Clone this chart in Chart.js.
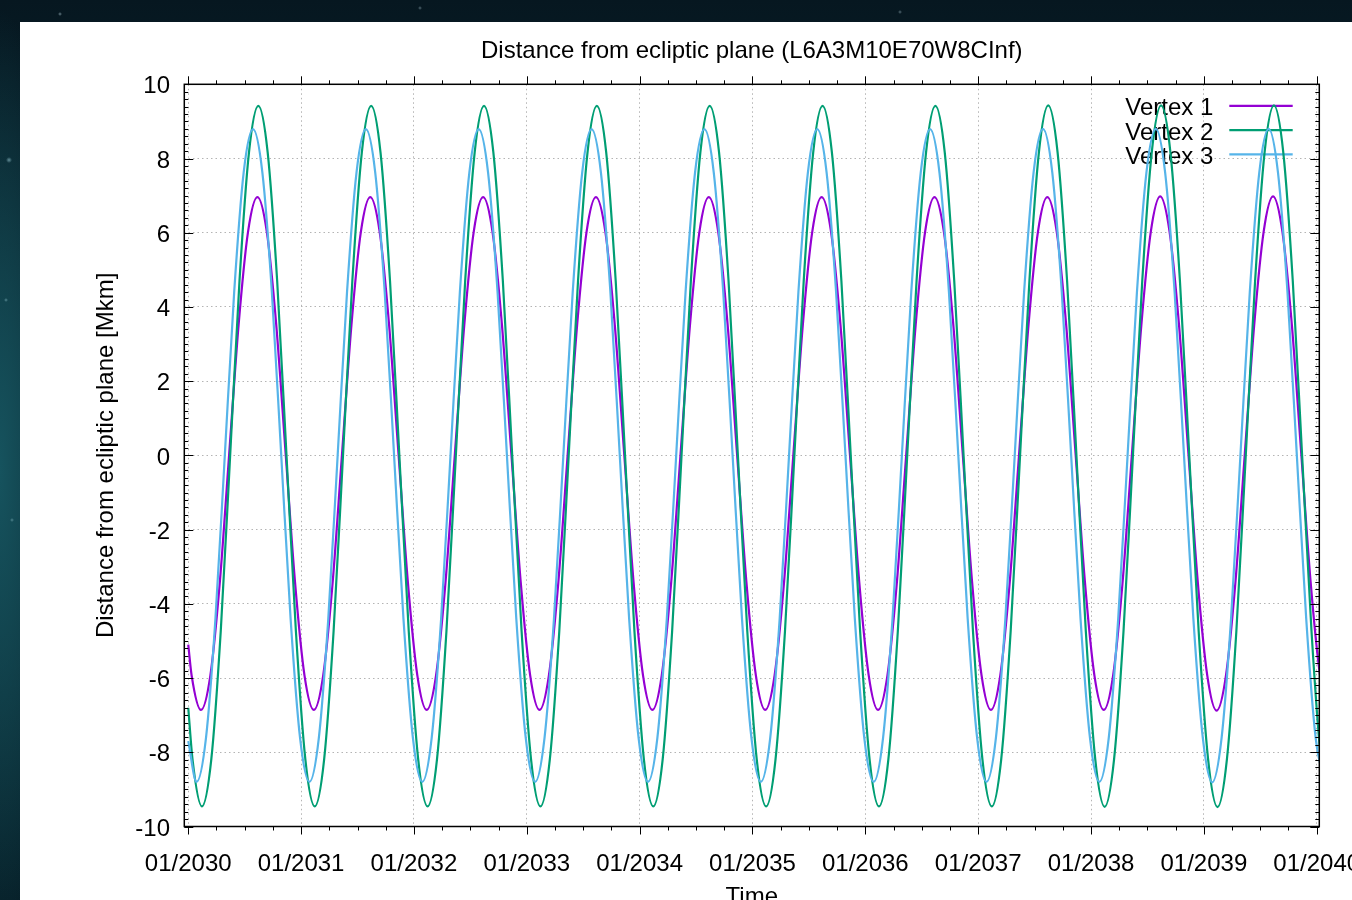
<!DOCTYPE html>
<html>
<head>
<meta charset="utf-8">
<title>Distance from ecliptic plane</title>
<script src="https://cdn.jsdelivr.net/npm/chart.js@4.4.0/dist/chart.umd.min.js"></script>
<style>
  html, body { margin: 0; padding: 0; }
  body {
    width: 1352px; height: 900px; overflow: hidden; position: relative;
    background:
      radial-gradient(circle at 9px 160px, rgba(170,220,230,0.55) 0, rgba(170,220,230,0) 3px),
      radial-gradient(circle at 6px 300px, rgba(170,220,230,0.45) 0, rgba(170,220,230,0) 2px),
      radial-gradient(circle at 12px 520px, rgba(170,220,230,0.4) 0, rgba(170,220,230,0) 2px),
      radial-gradient(circle at 60px 14px, rgba(200,230,240,0.5) 0, rgba(200,230,240,0) 2px),
      radial-gradient(circle at 420px 8px, rgba(200,230,240,0.4) 0, rgba(200,230,240,0) 2px),
      radial-gradient(circle at 900px 12px, rgba(200,230,240,0.4) 0, rgba(200,230,240,0) 2px),
      radial-gradient(ellipse 70px 460px at 0px 470px, #16535e 0%, rgba(20,80,90,0) 100%),
      linear-gradient(180deg, #061720 0%, #0c2f38 45%, #0b2d36 70%, #072029 100%);
  }
  #panel { position: absolute; left: 20px; top: 22px; width: 1400px; height: 900px; background: #fff; }
  #chart { display: block; }
</style>
</head>
<body>
<div id="panel"><canvas id="chart" width="1400" height="900"></canvas></div>
<script>
const el = (id) => document.getElementById(id);

// x axis: years after 01/2030
const yearTicks = [0, 1, 2, 3, 4, 5, 6, 7, 8, 9, 10];
const yearLabels = ['01/2030', '01/2031', '01/2032', '01/2033', '01/2034', '01/2035',
                    '01/2036', '01/2037', '01/2038', '01/2039', '01/2040'];
const distTicks = [-10, -8, -6, -4, -2, 0, 2, 4, 6, 8, 10];
const distLabels = ['-10', '-8', '-6', '-4', '-2', '0', '2', '4', '6', '8', '10'];

const seriesNames = ['Vertex 1', 'Vertex 2', 'Vertex 3'];

// Vertex 1 (Mkm)
const v1Time = [
  0,
  0.030, 0.113, 0.196, 0.280, 0.363, 0.446, 0.530, 0.613, 0.696, 0.780, 0.863, 0.946,
  1.030, 1.113, 1.196, 1.280, 1.363, 1.446, 1.530, 1.613, 1.696, 1.780, 1.863, 1.946,
  2.030, 2.113, 2.196, 2.280, 2.363, 2.446, 2.530, 2.613, 2.696, 2.780, 2.863, 2.946,
  3.030, 3.113, 3.196, 3.280, 3.363, 3.446, 3.530, 3.613, 3.696, 3.780, 3.863, 3.946,
  4.030, 4.113, 4.196, 4.280, 4.363, 4.446, 4.530, 4.613, 4.696, 4.780, 4.863, 4.946,
  5.030, 5.113, 5.196, 5.280, 5.363, 5.446, 5.530, 5.613, 5.696, 5.780, 5.863, 5.946,
  6.030, 6.113, 6.196, 6.280, 6.363, 6.446, 6.530, 6.613, 6.696, 6.780, 6.863, 6.946,
  7.030, 7.113, 7.196, 7.280, 7.363, 7.446, 7.530, 7.613, 7.696, 7.780, 7.863, 7.946,
  8.030, 8.113, 8.196, 8.280, 8.363, 8.446, 8.530, 8.613, 8.696, 8.780, 8.863, 8.946,
  9.030, 9.113, 9.196, 9.280, 9.363, 9.446, 9.530, 9.613, 9.696, 9.780, 9.863, 9.946,
  10.030, 10.113
];
const v1Dist = [
  -5.10,
  -5.93, -6.86, -5.93, -3.41, 0.05, 3.51, 6.03, 6.96, 6.03, 3.51, 0.05, -3.41,
  -5.93, -6.86, -5.93, -3.41, 0.05, 3.51, 6.03, 6.96, 6.03, 3.51, 0.05, -3.41,
  -5.93, -6.86, -5.93, -3.41, 0.05, 3.51, 6.03, 6.96, 6.03, 3.51, 0.05, -3.41,
  -5.93, -6.86, -5.93, -3.41, 0.05, 3.51, 6.03, 6.96, 6.03, 3.51, 0.05, -3.41,
  -5.93, -6.86, -5.93, -3.41, 0.05, 3.51, 6.03, 6.96, 6.03, 3.51, 0.05, -3.41,
  -5.93, -6.86, -5.93, -3.41, 0.05, 3.51, 6.03, 6.96, 6.03, 3.51, 0.05, -3.41,
  -5.93, -6.86, -5.93, -3.41, 0.05, 3.51, 6.03, 6.96, 6.03, 3.51, 0.05, -3.41,
  -5.93, -6.86, -5.93, -3.41, 0.05, 3.51, 6.03, 6.96, 6.03, 3.51, 0.05, -3.41,
  -5.93, -6.86, -5.93, -3.41, 0.05, 3.51, 6.03, 6.98, 6.03, 3.51, 0.05, -3.41,
  -5.93, -6.88, -5.93, -3.41, 0.05, 3.51, 6.03, 6.98, 6.03, 3.51, 0.05, -3.41,
  -5.93, -6.86
];

// Vertex 2
const v2Time = [
  0,
  0.038, 0.121, 0.204, 0.288, 0.371, 0.454, 0.538, 0.621, 0.704, 0.788, 0.871, 0.954,
  1.038, 1.121, 1.204, 1.288, 1.371, 1.454, 1.538, 1.621, 1.704, 1.788, 1.871, 1.954,
  2.038, 2.121, 2.204, 2.288, 2.371, 2.454, 2.538, 2.621, 2.704, 2.788, 2.871, 2.954,
  3.038, 3.121, 3.204, 3.288, 3.371, 3.454, 3.538, 3.621, 3.704, 3.788, 3.871, 3.954,
  4.038, 4.121, 4.204, 4.288, 4.371, 4.454, 4.538, 4.621, 4.704, 4.788, 4.871, 4.954,
  5.038, 5.121, 5.204, 5.288, 5.371, 5.454, 5.538, 5.621, 5.704, 5.788, 5.871, 5.954,
  6.038, 6.121, 6.204, 6.288, 6.371, 6.454, 6.538, 6.621, 6.704, 6.788, 6.871, 6.954,
  7.038, 7.121, 7.204, 7.288, 7.371, 7.454, 7.538, 7.621, 7.704, 7.788, 7.871, 7.954,
  8.038, 8.121, 8.204, 8.288, 8.371, 8.454, 8.538, 8.621, 8.704, 8.788, 8.871, 8.954,
  9.038, 9.121, 9.204, 9.288, 9.371, 9.454, 9.538, 9.621, 9.704, 9.788, 9.871, 9.954,
  10.038, 10.121
];
const v2Dist = [
  -6.80,
  -8.20, -9.46, -8.20, -4.74, -0.02, 4.70, 8.16, 9.42, 8.16, 4.70, -0.02, -4.74,
  -8.20, -9.46, -8.20, -4.74, -0.02, 4.70, 8.16, 9.42, 8.16, 4.70, -0.02, -4.74,
  -8.20, -9.46, -8.20, -4.74, -0.02, 4.70, 8.16, 9.42, 8.16, 4.70, -0.02, -4.74,
  -8.20, -9.46, -8.20, -4.74, -0.02, 4.70, 8.16, 9.42, 8.16, 4.70, -0.02, -4.74,
  -8.20, -9.46, -8.20, -4.74, -0.02, 4.70, 8.16, 9.42, 8.16, 4.70, -0.02, -4.74,
  -8.20, -9.46, -8.20, -4.74, -0.02, 4.70, 8.16, 9.42, 8.16, 4.70, -0.02, -4.74,
  -8.20, -9.46, -8.20, -4.74, -0.02, 4.70, 8.16, 9.42, 8.16, 4.70, -0.02, -4.74,
  -8.20, -9.46, -8.20, -4.74, -0.02, 4.70, 8.16, 9.43, 8.16, 4.70, -0.02, -4.74,
  -8.20, -9.47, -8.20, -4.74, -0.02, 4.70, 8.16, 9.43, 8.16, 4.70, -0.02, -4.74,
  -8.20, -9.48, -8.20, -4.74, -0.02, 4.70, 8.16, 9.43, 8.16, 4.70, -0.02, -4.74,
  -8.20, -9.46
];

// Vertex 3
const v3Time = [
  0,
  0.074, 0.157, 0.241, 0.324, 0.407, 0.491, 0.574, 0.657, 0.741, 0.824, 0.907, 0.991,
  1.074, 1.157, 1.241, 1.324, 1.407, 1.491, 1.574, 1.657, 1.741, 1.824, 1.907, 1.991,
  2.074, 2.157, 2.241, 2.324, 2.407, 2.491, 2.574, 2.657, 2.741, 2.824, 2.907, 2.991,
  3.074, 3.157, 3.241, 3.324, 3.407, 3.491, 3.574, 3.657, 3.741, 3.824, 3.907, 3.991,
  4.074, 4.157, 4.241, 4.324, 4.407, 4.491, 4.574, 4.657, 4.741, 4.824, 4.907, 4.991,
  5.074, 5.157, 5.241, 5.324, 5.407, 5.491, 5.574, 5.657, 5.741, 5.824, 5.907, 5.991,
  6.074, 6.157, 6.241, 6.324, 6.407, 6.491, 6.574, 6.657, 6.741, 6.824, 6.907, 6.991,
  7.074, 7.157, 7.241, 7.324, 7.407, 7.491, 7.574, 7.657, 7.741, 7.824, 7.907, 7.991,
  8.074, 8.157, 8.241, 8.324, 8.407, 8.491, 8.574, 8.657, 8.741, 8.824, 8.907, 8.991,
  9.074, 9.157, 9.241, 9.324, 9.407, 9.491, 9.574, 9.657, 9.741, 9.824, 9.907, 9.991,
  10.074
];
const v3Dist = [
  -7.70,
  -8.80, -7.62, -4.40, 0.00, 4.40, 7.62, 8.79, 7.62, 4.40, 0.00, -4.40, -7.62,
  -8.80, -7.62, -4.40, 0.00, 4.40, 7.62, 8.79, 7.62, 4.40, 0.00, -4.40, -7.62,
  -8.80, -7.62, -4.40, 0.00, 4.40, 7.62, 8.79, 7.62, 4.40, 0.00, -4.40, -7.62,
  -8.80, -7.62, -4.40, 0.00, 4.40, 7.62, 8.79, 7.62, 4.40, 0.00, -4.40, -7.62,
  -8.80, -7.62, -4.40, 0.00, 4.40, 7.62, 8.79, 7.62, 4.40, 0.00, -4.40, -7.62,
  -8.80, -7.62, -4.40, 0.00, 4.40, 7.62, 8.79, 7.62, 4.40, 0.00, -4.40, -7.62,
  -8.80, -7.62, -4.40, 0.00, 4.40, 7.62, 8.79, 7.62, 4.40, 0.00, -4.40, -7.62,
  -8.80, -7.62, -4.40, 0.00, 4.40, 7.62, 8.80, 7.62, 4.40, 0.00, -4.40, -7.62,
  -8.80, -7.62, -4.40, 0.00, 4.40, 7.62, 8.80, 7.62, 4.40, 0.00, -4.40, -7.62,
  -8.81, -7.62, -4.40, 0.00, 4.40, 7.62, 8.80, 7.62, 4.40, 0.00, -4.40, -7.62,
  -8.80
];

const FONT = { family: "'Liberation Sans', Arial, Helvetica, sans-serif", size: 24, weight: 'normal' };
const pts = (t, d) => t.map((x, i) => ({ x: x, y: d[i] }));

// key drawn inside the plot, text left of the sample line (gnuplot style)
const keyPlugin = {
    id: 'key',
    beforeDatasetsDraw(chart) {
        const { ctx, chartArea: a } = chart;
        ctx.save();
        ctx.font = `${FONT.size}px ${FONT.family}`;
        ctx.textAlign = 'right';
        ctx.textBaseline = 'middle';
        ctx.fillStyle = '#000';
        chart.data.datasets.forEach((ds, i) => {
            const yy = a.top + 21.5 + i * 24.3;
            ctx.fillText(ds.label, a.right - 106, yy + 3);
            ctx.strokeStyle = ds.borderColor;
            ctx.lineWidth = 2.2;
            ctx.beginPath();
            ctx.moveTo(a.right - 90, yy);
            ctx.lineTo(a.right - 26.6, yy);
            ctx.stroke();
        });
        ctx.restore();
    }
};

// border box, mirrored tics and minor tics
const framePlugin = {
    id: 'frame',
    afterDraw(chart) {
        const { ctx, chartArea: a, scales: { x, y } } = chart;
        ctx.save();
        ctx.strokeStyle = '#000';
        ctx.lineWidth = 1;
        ctx.beginPath();
        for (let q = 0; q <= 40; q++) {
            const px = Math.round(x.getPixelForValue(q / 4)) + 0.5;
            const len = q % 4 === 0 ? 8 : 4;
            ctx.moveTo(px, a.bottom); ctx.lineTo(px, a.bottom + len);
            ctx.moveTo(px, a.top); ctx.lineTo(px, a.top - len);
        }
        for (let q = 0; q <= 100; q++) {
            const py = Math.round(y.getPixelForValue(-10 + q * 0.2)) + 0.5;
            const len = q % 10 === 0 ? 9 : 4;
            ctx.moveTo(a.left, py); ctx.lineTo(a.left + len, py);
            ctx.moveTo(a.right, py); ctx.lineTo(a.right - len, py);
        }
        ctx.stroke();
        ctx.lineWidth = 1.5;
        ctx.strokeRect(a.left, a.top, a.right - a.left, a.bottom - a.top);
        ctx.restore();
    }
};

const chart = new Chart(el('chart').getContext('2d'), {
    type: 'line',
    data: {
        datasets: [
            { label: seriesNames[0], data: pts(v1Time, v1Dist), borderColor: '#9400d3', order: 3 },
            { label: seriesNames[1], data: pts(v2Time, v2Dist), borderColor: '#009e73', order: 2 },
            { label: seriesNames[2], data: pts(v3Time, v3Dist), borderColor: '#56b4e9', order: 1 }
        ]
    },
    options: {
        responsive: false,
        animation: false,
        events: [],
        elements: {
            point: { radius: 0 },
            line: { borderWidth: 2.2, cubicInterpolationMode: 'monotone', fill: false }
        },
        layout: { padding: { left: 0, top: 0, right: 100.7, bottom: 0 } },
        plugins: {
            legend: { display: false },
            tooltip: { enabled: false },
            title: {
                display: true,
                text: 'Distance from ecliptic plane (L6A3M10E70W8CInf)',
                fullSize: false,
                color: '#000',
                font: FONT,
                padding: { top: 15.1, bottom: 18.4 }
            }
        },
        scales: {
            x: {
                type: 'linear',
                bounds: 'data',
                min: -0.035,
                max: 10.023,
                afterBuildTicks: (s) => { s.ticks = yearTicks.map(v => ({ value: v })); },
                afterFit: (s) => { s.height = 95.5; },
                ticks: { autoSkip: false, maxRotation: 0, padding: 23.3, color: '#000', font: FONT,
                         callback: (v, i) => yearLabels[i] },
                grid: { color: '#b4b4b4', lineWidth: 1, drawTicks: false },
                border: { display: false, dash: [1.5, 3] },
                title: { display: true, text: 'Time', color: '#000', font: FONT, padding: { top: 0, bottom: 10 } }
            },
            y: {
                type: 'linear',
                min: -10,
                max: 10,
                afterBuildTicks: (s) => { s.ticks = distTicks.map(v => ({ value: v })); },
                afterFit: (s) => { s.width = 164.3; },
                ticks: { padding: 14.3, labelOffset: 2.5, color: '#000', font: FONT,
                         callback: (v, i) => distLabels[i] },
                grid: { color: '#b4b4b4', lineWidth: 1, drawTicks: false },
                border: { display: false, dash: [1.5, 3] },
                title: { display: true, text: 'Distance from ecliptic plane [Mkm]', color: '#000', font: FONT,
                         padding: { top: 72, bottom: 0 } }
            }
        }
    },
    plugins: [keyPlugin, framePlugin]
});
</script>
</body>
</html>
